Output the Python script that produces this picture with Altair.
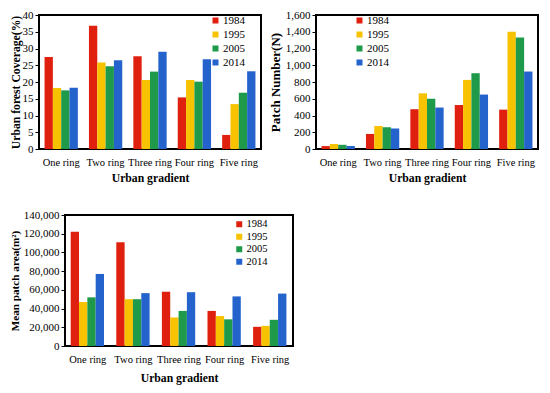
import altair as alt
import pandas as pd

rings = ["One ring", "Two ring", "Three ring", "Four ring", "Five ring"]
years = ["1984", "1995", "2005", "2014"]
colors = ["#E0200F", "#F7C200", "#1E9A4A", "#2563CC"]

# Urban forest coverage (%)
cov_1984 = [27.5, 36.8, 27.7, 15.4, 4.2]
cov_1995 = [18.2, 25.8, 20.6, 20.6, 13.4]
cov_2005 = [17.5, 24.7, 23.1, 20.1, 16.8]
cov_2014 = [18.3, 26.5, 29.0, 26.8, 23.2]

# Patch number (N)
pn_1984 = [35, 180, 475, 525, 470]
pn_1995 = [60, 275, 665, 825, 1400]
pn_2005 = [50, 260, 600, 905, 1330]
pn_2014 = [35, 245, 495, 650, 925]

# Mean patch area (m2)
mpa_1984 = [122000, 111000, 58000, 37500, 20500]
mpa_1995 = [47000, 50000, 30500, 32000, 21500]
mpa_2005 = [52000, 50000, 37500, 28500, 28000]
mpa_2014 = [77000, 56500, 57500, 53000, 56000]

FONT = "Liberation Serif"


def make_df(series):
    rows = []
    for y, vals in zip(years, series):
        for r, v in zip(rings, vals):
            rows.append({"ring": r, "year": y, "value": v})
    return pd.DataFrame(rows)


def panel(series, ytitle, ytsize, ytpad, ymax, ystep, w, h, lx, ly, lsize, lrow, title_pad):
    df = make_df(series)
    return alt.Chart(df).mark_bar().encode(
        x=alt.X("ring:N", sort=rings,
                scale=alt.Scale(paddingInner=0.25, paddingOuter=0.125),
                axis=alt.Axis(title="Urban gradient", labelAngle=0, ticks=False,
                              labelFont=FONT, labelFontSize=10.5, labelColor="black",
                              titleFont=FONT, titleFontSize=11.7, titleFontWeight="bold",
                              titleColor="black", labelPadding=8, titlePadding=title_pad,
                              domain=False, labelOverlap=False)),
        xOffset=alt.XOffset("year:N", sort=years,
                            scale=alt.Scale(paddingInner=0, paddingOuter=0)),
        y=alt.Y("value:Q", scale=alt.Scale(domain=[0, ymax], nice=False),
                axis=alt.Axis(title=ytitle, values=list(range(0, ymax + 1, ystep)),
                              format=",d", grid=False, domain=False, tickColor="black",
                              tickSize=4, labelPadding=2, labelFont=FONT, labelFontSize=11,
                              labelColor="black", titleFont=FONT, titleFontSize=ytsize,
                              titleFontWeight="bold", titleColor="black", titlePadding=ytpad)),
        color=alt.Color("year:N", sort=years,
                        scale=alt.Scale(domain=years, range=colors),
                        legend=alt.Legend(orient="none", legendX=lx, legendY=ly, title=None,
                                          symbolType="square", symbolSize=36, padding=0,
                                          symbolStrokeWidth=0, labelFont=FONT,
                                          labelFontSize=lsize, labelColor="black",
                                          rowPadding=lrow, labelOffset=2)),
    ).properties(width=w, height=h)


p1 = panel([cov_1984, cov_1995, cov_2005, cov_2014], "Urban forest Coverage(%)", 11.7, 1,
           40, 5, 222, 134, 171, 0, 11, 2, 5)
p2 = panel([pn_1984, pn_1995, pn_2005, pn_2014], "Patch Number(N)", 13, 3,
           1600, 200, 222, 134, 38, 0, 11, 2, 5)
p3 = panel([mpa_1984, mpa_1995, mpa_2005, mpa_2014], "Mean patch area(m²)", 11.2, 3,
           140000, 20000, 228, 131, 169, 4, 10.5, 1.5, 8)

spacer = alt.Chart(pd.DataFrame({"v": [0]})).mark_point(opacity=0).encode(
    x=alt.X("v:Q", axis=None), y=alt.Y("v:Q", axis=None)
).properties(width=1, height=1, view=alt.ViewBackground(strokeOpacity=0))

row1 = alt.hconcat(p1, p2, spacing=6).resolve_scale(color="independent")
row2 = alt.hconcat(spacer, p3, spacing=-35).resolve_scale(color="independent")

chart = alt.vconcat(row1, row2, spacing=22).properties(
    padding={"left": 0, "top": 0, "right": 0, "bottom": 0}
).resolve_scale(color="independent").configure_view(stroke="black", strokeWidth=2)

chart.save("out.html", embed_options={"renderer": "svg", "actions": False})
